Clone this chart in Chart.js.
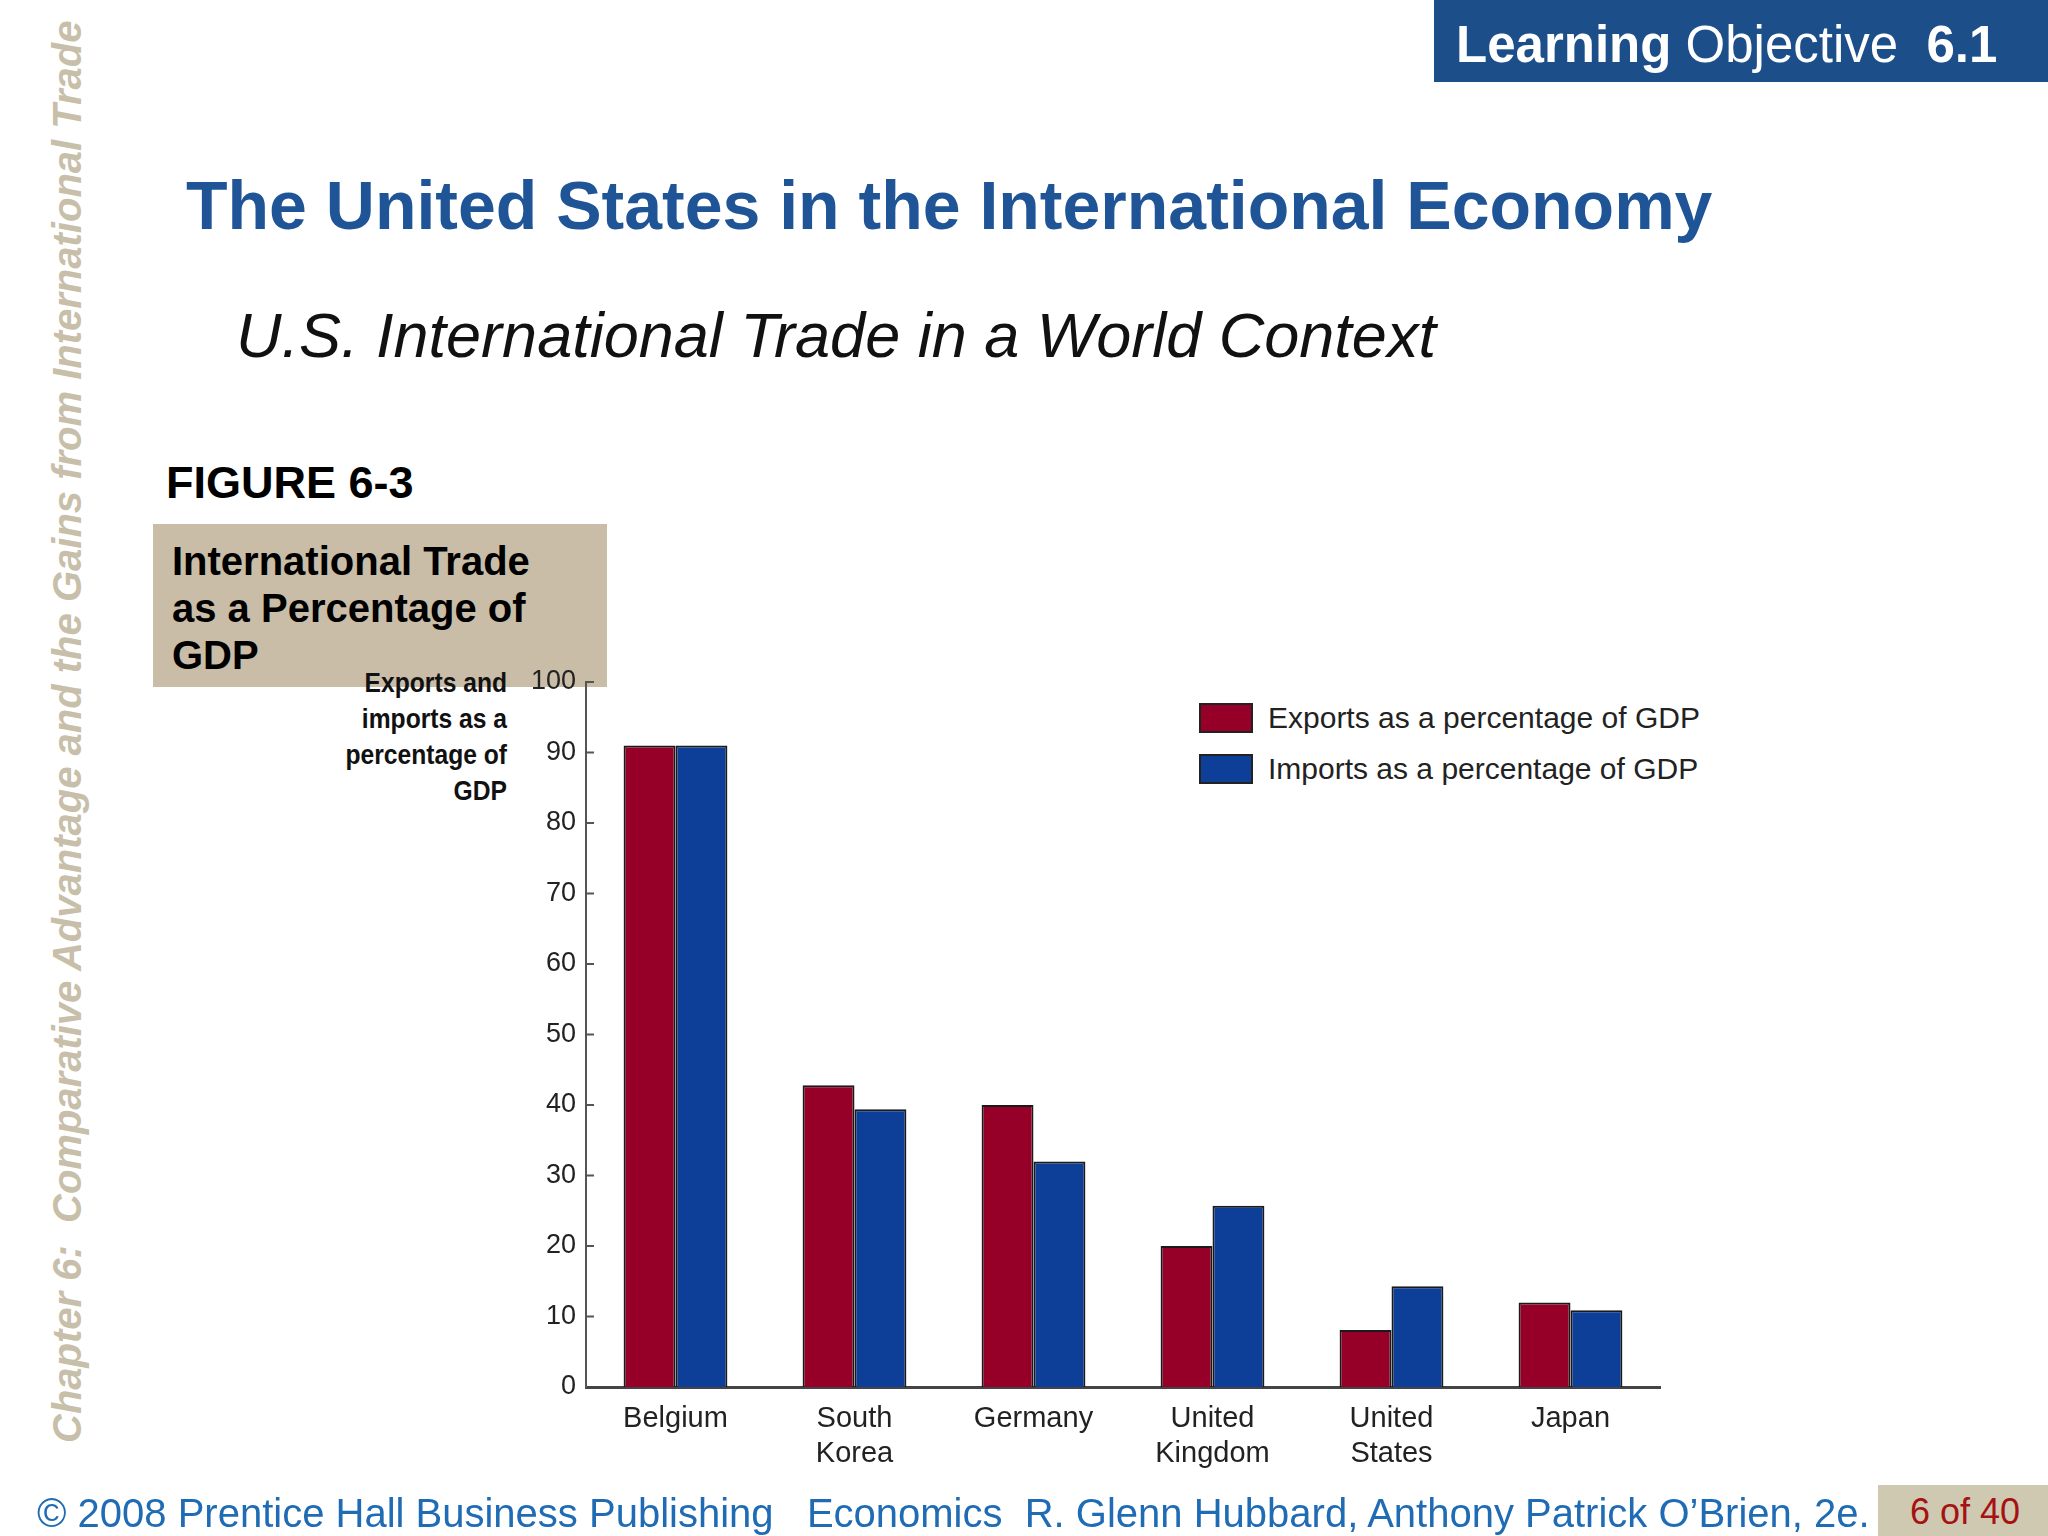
<!DOCTYPE html>
<html>
<head>
<meta charset="utf-8">
<script src="https://cdn.jsdelivr.net/npm/chart.js@4.4.0/dist/chart.umd.min.js"></script>
<style>
  html, body { margin: 0; padding: 0; background: #fff; }
  body { width: 2048px; height: 1536px; position: relative; overflow: hidden; font-family: "Liberation Sans", Arial, sans-serif; }
  .abs { position: absolute; white-space: pre; }
  #lo-box { left: 1434px; top: 0; width: 614px; height: 82px; background: #1c4f8a; }
  #lo-text { left: 1456px; top: 15px; font-size: 51px; color: #fff; line-height: 60px; }
  #title { left: 186px; top: 165px; font-size: 68px; font-weight: bold; color: #1f5597; line-height: 80px; }
  #subtitle { left: 236px; top: 300px; font-size: 63px; font-style: italic; color: #111; line-height: 70px; }
  #figure { left: 166px; top: 456px; font-size: 45px; font-weight: bold; color: #000; line-height: 54px; }
  #beige { left: 153px; top: 524px; width: 454px; height: 163px; background: #c9bda7; }
  #beige-text { left: 172px; top: 538px; font-size: 40px; font-weight: bold; color: #000; line-height: 47px; }
  #side { left: 44px; top: 1443px; width: 1440px; height: 46px; transform-origin: left top; transform: rotate(-90deg);
          font-size: 40px; font-weight: bold; font-style: italic; color: #c8bfaa; line-height: 46px; }
  #ytitle { left: 200px; top: 665px; width: 307px; text-align: right;
            font-size: 28px; font-weight: bold; color: #111; line-height: 36px;
            transform-origin: right top; transform: scaleX(0.88); }
  .leg-box { position: absolute; width: 50px; height: 26px; border: 2px solid #222; }
  .leg-text { position: absolute; font-size: 30px; color: #222; line-height: 30px; white-space: pre; }
  #footer { left: 37px; top: 1490px; font-size: 40px; color: #1f6cb5; line-height: 46px; }
  #page-box { left: 1878px; top: 1485px; width: 170px; height: 51px; background: #cfc9b2; }
  #page-text { left: 1910px; top: 1490px; font-size: 36px; color: #a51212; line-height: 44px; }
  #chart-wrap { position: absolute; left: 450px; top: 650px; width: 1300px; height: 850px; }
</style>
</head>
<body>
<div class="abs" id="lo-box"></div>
<div class="abs" id="lo-text"><b>Learning</b> Objective  <b>6.1</b></div>
<div class="abs" id="title">The United States in the International Economy</div>
<div class="abs" id="subtitle">U.S. International Trade in a World Context</div>
<div class="abs" id="side">Chapter 6:  Comparative Advantage and the Gains from International Trade</div>
<div class="abs" id="figure">FIGURE 6-3</div>
<div class="abs" id="beige"></div>
<div class="abs" id="beige-text">International Trade
as a Percentage of
GDP</div>
<div class="abs" id="ytitle">Exports and
imports as a
percentage of
GDP</div>

<div class="leg-box" style="left:1199px; top:703px; background:#960028;"></div>
<div class="leg-text" style="left:1268px; top:703px;">Exports as a percentage of GDP</div>
<div class="leg-box" style="left:1199px; top:754px; background:#0e3f98;"></div>
<div class="leg-text" style="left:1268px; top:754px;">Imports as a percentage of GDP</div>

<div id="chart-wrap"><canvas id="trade-chart" width="1300" height="850"></canvas></div>

<div class="abs" id="footer">© 2008 Prentice Hall Business Publishing   Economics  R. Glenn Hubbard, Anthony Patrick O’Brien, 2e.</div>
<div class="abs" id="page-box"></div>
<div class="abs" id="page-text">6 of 40</div>

<script>
// Chart data
const countries = [['Belgium'], ['South', 'Korea'], ['Germany'], ['United', 'Kingdom'], ['United', 'States'], ['Japan']];
const exportsPct = [91, 42.8, 40, 20, 8.1, 12];
const importsPct = [91, 39.4, 32, 25.7, 14.3, 10.9];
const yTicks = [0, 10, 20, 30, 40, 50, 60, 70, 80, 90, 100];

// Small inward tick marks on the y axis
const innerTicks = {
  id: 'innerTicks',
  afterDraw(chart) {
    const y = chart.scales.y;
    const ctx = chart.ctx;
    const x0 = chart.chartArea.left;
    ctx.save();
    ctx.strokeStyle = '#555';
    ctx.lineWidth = 2;
    yTicks.forEach(v => {
      if (v === 0) return;
      const py = y.getPixelForValue(v);
      ctx.beginPath();
      ctx.moveTo(x0, py);
      ctx.lineTo(x0 + 8, py);
      ctx.stroke();
    });
    ctx.restore();
  }
};

const ctx = document.getElementById('trade-chart').getContext('2d');
const chart = new Chart(ctx, {
  type: 'bar',
  data: {
    labels: countries,
    datasets: [{
      label: 'Exports as a percentage of GDP',
      data: exportsPct,
      backgroundColor: '#960028',
      borderColor: '#1a1a1a',
      borderWidth: 2,
      borderSkipped: 'bottom'
    }, {
      label: 'Imports as a percentage of GDP',
      data: importsPct,
      backgroundColor: '#0e3f98',
      borderColor: '#1a1a1a',
      borderWidth: 2,
      borderSkipped: 'bottom'
    }]
  },
  options: {
    responsive: false,
    animation: false,
    devicePixelRatio: 1,
    categoryPercentage: 0.58,
    barPercentage: 1,
    layout: { padding: { left: 0, top: 32, right: 90, bottom: 13 } },
    plugins: {
      legend: { display: false },
      tooltip: { enabled: false }
    },
    scales: {
      x: {
        grid: { display: false, drawTicks: false },
        border: { display: true, color: '#444', width: 3 },
        ticks: {
          color: '#222',
          padding: 15,
          font: { family: 'Liberation Sans', size: 29, lineHeight: 1.2 },
          maxRotation: 0
        },
        afterFit: s => { s.height = 100; }
      },
      y: {
        min: 0,
        max: 100,
        grid: { display: false, drawTicks: false },
        border: { display: true, color: '#555', width: 2 },
        afterBuildTicks: s => { s.ticks = yTicks.map(v => ({ value: v })); },
        ticks: {
          color: '#222',
          padding: 10,
          font: { family: 'Liberation Sans', size: 27 }
        },
        afterFit: s => { s.width = 136; }
      }
    }
  },
  plugins: [innerTicks]
});
</script>
</body>
</html>
